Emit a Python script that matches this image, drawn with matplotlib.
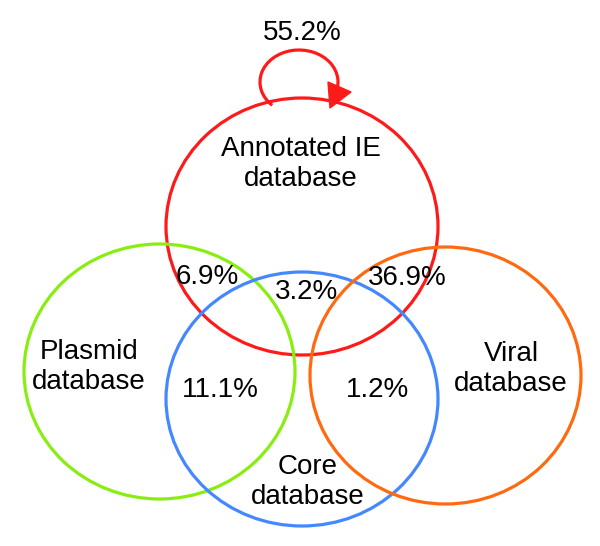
import matplotlib
matplotlib.use("Agg")
import matplotlib.pyplot as plt
from matplotlib.patches import Ellipse, Arc, Polygon

plt.rcParams['font.family'] = ['Liberation Sans', 'DejaVu Sans']

# Data
sets = ["Annotated IE\ndatabase", "Plasmid\ndatabase", "Core\ndatabase", "Viral\ndatabase"]
set_colors = ["#ff1a1a", "#88ee11", "#4488ff", "#ff6a10"]
region_names = ["self", "IE∩Plasmid", "IE∩Core", "IE∩Viral", "Plasmid∩Core", "Core∩Viral"]
region_values = [55.2, 6.9, 3.2, 36.9, 11.1, 1.2]

# Layout (pixel space)
ellipses = [(302, 226.5, 272, 257), (159.5, 371.5, 271, 255), (302, 399, 272, 254), (445.5, 375.5, 271, 257)]
set_label_pos = [(301, 164), (89, 367), (308, 482), (511, 369)]
value_pos = [(302, 33), (207, 277), (307, 292), (407, 278), (220, 390), (377, 390)]

fig = plt.figure(figsize=(6, 5.46), dpi=100)
ax = fig.add_axes([0, 0, 1, 1])
ax.set_xlim(0, 600)
ax.set_ylim(546, 0)
ax.axis('off')

for (cx, cy, w, h), c in zip(ellipses, set_colors):
    ax.add_patch(Ellipse((cx, cy), w, h, fill=False, ec=c, lw=2.3))

for name, (x, y) in zip(sets, set_label_pos):
    ax.text(x, y, name, ha='center', va='center', fontsize=20, linespacing=1.2)

for v, (x, y) in zip(region_values, value_pos):
    ax.text(x, y, f"{v:.1f}%", ha='center', va='center', fontsize=20)

# self-loop arrow on the annotated IE set
red = set_colors[0]
ax.add_patch(Arc((299, 82), 78, 64, theta1=-221, theta2=22, ec=red, lw=2.3))
ax.add_patch(Polygon([(328, 82), (351, 92), (330, 108)], closed=True, fc=red, ec=red, lw=1))

fig.savefig("out.png", dpi=100)
